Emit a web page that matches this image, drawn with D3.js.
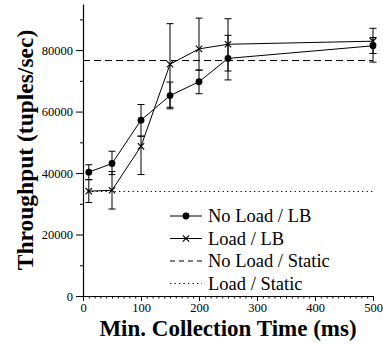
<!DOCTYPE html>
<html>
<head>
<meta charset="utf-8">
<script src="https://cdn.jsdelivr.net/npm/d3@7"></script>
<style>
  body { margin: 0; background: #fff; }
  svg { display: block; }
  svg text { font-family: "Liberation Serif", "Times New Roman", Times, "DejaVu Serif", serif; fill: #000; }
</style>
</head>
<body>
<svg id="chart" width="383" height="347"></svg>
<script>
// collection times (ms)
const times = [10, 50, 100, 150, 200, 250, 500];

// No Load / LB
const noLoad = [40300, 43100, 57200, 65200, 69700, 77300, 81400];
const noLoadLo = [37900, 39500, 52000, 61400, 65800, 70300, 76100];
const noLoadHi = [42700, 47100, 62300, 69600, 73500, 84800, 84100];

// Load / LB
const load = [34100, 34400, 48700, 75400, 80400, 81900, 82900];
const loadLo = [30400, 28300, 39500, 60900, 73500, 73200, 78900];
const loadHi = [37800, 40500, 52000, 88600, 90400, 90200, 87100];

// static baselines
const noLoadStatic = 76600;
const loadStatic = 34000;

const xTicks = [0, 100, 200, 300, 400, 500];
const yTicks = [0, 20000, 40000, 60000, 80000];
const legendLabels = ["No Load / LB", "Load / LB", "No Load / Static", "Load / Static"];

const FONT = '"Liberation Serif", "Times New Roman", Times, "DejaVu Serif", serif';

const svg = d3.select("#chart"),
  margin = { top: 4, right: 10, bottom: 51, left: 83 },
  width = 383 - margin.left - margin.right,
  height = 347 - margin.top - margin.bottom,
  g = svg.append("g").attr("transform", `translate(${margin.left},${margin.top})`);

const x = d3.scaleLinear().domain([0, 500]).range([0, width]);
const y = d3.scaleLinear().domain([0, 95000]).range([height, 0]);

// minor ticks
g.append("g")
  .attr("transform", `translate(0,${height})`)
  .call(d3.axisBottom(x).tickValues(d3.range(0, 501, 10)).tickSize(2.5).tickFormat(""))
  .call((a) => a.select(".domain").remove());
g.append("g")
  .call(d3.axisLeft(y).tickValues(d3.range(10000, 95000, 20000)).tickSize(3).tickFormat(""))
  .call((a) => a.select(".domain").remove());

// major axes
const xAxis = g.append("g")
  .attr("transform", `translate(0,${height})`)
  .call(d3.axisBottom(x).tickValues(xTicks).tickSize(5).tickSizeOuter(0).tickPadding(2).tickFormat(d3.format("d")));
const yAxis = g.append("g")
  .call(d3.axisLeft(y).tickValues(yTicks).tickSize(7).tickSizeOuter(0).tickPadding(3).tickFormat(d3.format("d")));

[xAxis, yAxis].forEach((a) => {
  a.attr("font-family", FONT);
  a.selectAll("text")
    .style("font-family", FONT)
    .style("font-size", "12.5px")
    .attr("fill", "#000");
  a.select(".domain").attr("stroke-width", 1.2);
});

// static lines
g.append("line")
  .attr("x1", x(0)).attr("x2", x(500))
  .attr("y1", y(noLoadStatic)).attr("y2", y(noLoadStatic))
  .attr("stroke", "#000").attr("stroke-dasharray", "7,4");
g.append("line")
  .attr("x1", x(0)).attr("x2", x(500))
  .attr("y1", y(loadStatic)).attr("y2", y(loadStatic))
  .attr("stroke", "#000").attr("stroke-dasharray", "1.3,3.2");

const line = d3.line().x((d) => x(d[0])).y((d) => y(d[1]));

function drawSeries(vals, lo, hi, marker) {
  const pts = times.map((t, i) => [t, vals[i]]);
  g.append("path")
    .datum(pts)
    .attr("fill", "none")
    .attr("stroke", "#000")
    .attr("stroke-width", 1)
    .attr("d", line);

  const err = g.append("g").attr("stroke", "#000").attr("stroke-width", 1);
  times.forEach((t, i) => {
    const cx = x(t);
    err.append("line").attr("x1", cx).attr("x2", cx).attr("y1", y(lo[i])).attr("y2", y(hi[i]));
    [lo[i], hi[i]].forEach((v) => {
      err.append("line").attr("x1", cx - 3.5).attr("x2", cx + 3.5).attr("y1", y(v)).attr("y2", y(v));
    });
  });

  pts.forEach((p) => marker(g, x(p[0]), y(p[1])));
}

function dot(sel, cx, cy) {
  sel.append("circle").attr("cx", cx).attr("cy", cy).attr("r", 3.4).attr("fill", "#000");
}
function cross(sel, cx, cy) {
  const s = 3.2;
  sel.append("path")
    .attr("d", `M${cx - s},${cy - s}L${cx + s},${cy + s}M${cx - s},${cy + s}L${cx + s},${cy - s}`)
    .attr("stroke", "#000").attr("stroke-width", 1.1).attr("fill", "none");
}

drawSeries(noLoad, noLoadLo, noLoadHi, dot);
drawSeries(load, loadLo, loadHi, cross);

// legend
const legend = svg.append("g").attr("transform", "translate(170,216)");
const styles = [
  { dash: null, marker: dot },
  { dash: null, marker: cross },
  { dash: "5,4", marker: null },
  { dash: "1.3,3.2", marker: null }
];
legendLabels.forEach((label, i) => {
  const row = legend.append("g").attr("transform", `translate(0,${i * 22.5})`);
  row.append("line")
    .attr("x1", 0).attr("x2", 32).attr("y1", 0).attr("y2", 0)
    .attr("stroke", "#000")
    .attr("stroke-dasharray", styles[i].dash);
  if (styles[i].marker) styles[i].marker(row, 16, 0);
  row.append("text")
    .attr("x", 38).attr("y", 6)
    .style("font-family", FONT)
    .style("font-size", "18.5px")
    .text(label);
});

// axis titles
svg.append("text")
  .attr("x", margin.left + width / 2)
  .attr("y", 336)
  .attr("text-anchor", "middle")
  .style("font-family", FONT)
  .style("font-size", "23px")
  .style("font-weight", "bold")
  .text("Min. Collection Time (ms)");

svg.append("text")
  .attr("transform", `translate(33,${margin.top + height / 2}) rotate(-90)`)
  .attr("text-anchor", "middle")
  .style("font-family", FONT)
  .style("font-size", "23.5px")
  .style("font-weight", "bold")
  .text("Throughput (tuples/sec)");
</script>
</body>
</html>
